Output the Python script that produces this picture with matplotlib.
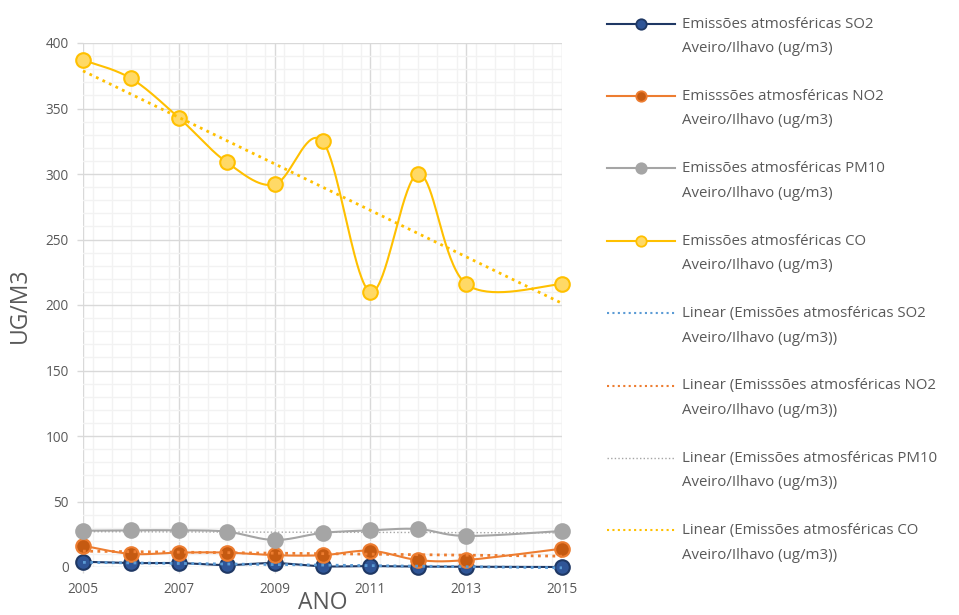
import numpy as np
import matplotlib
matplotlib.use("Agg")
import matplotlib.pyplot as plt
from matplotlib.lines import Line2D
from matplotlib.ticker import MultipleLocator

plt.rcParams['font.family'] = ['Open Sans', 'DejaVu Sans']

# Annual averages, Aveiro/Ilhavo station (ug/m3); no record for 2014
years = [2005, 2006, 2007, 2008, 2009, 2010, 2011, 2012, 2013, 2015]
so2 = [4.0, 3.0, 3.0, 1.5, 3.0, 0.5, 0.7, 0.3, 0.3, 0.0]
no2 = [16.3, 10.0, 11.0, 11.0, 9.0, 9.0, 12.4, 5.3, 5.3, 14.0]
pm10 = [27.7, 28.0, 28.0, 27.0, 20.6, 26.0, 28.0, 29.0, 23.7, 27.5]
co = [387, 373, 343, 309, 292, 325, 210, 300, 216, 216]

series_labels = [
    ("Emissões atmosféricas SO2", "Aveiro/Ilhavo (ug/m3)"),
    ("Emisssões atmosféricas NO2", "Aveiro/Ilhavo (ug/m3)"),
    ("Emissões atmosféricas PM10", "Aveiro/Ilhavo (ug/m3)"),
    ("Emissões atmosféricas CO", "Aveiro/Ilhavo (ug/m3)"),
]
x_ticks = [2005, 2007, 2009, 2011, 2013, 2015]
y_ticks = [0, 50, 100, 150, 200, 250, 300, 350, 400]

# line colour, marker fill, marker edge, trend colour, trend width
styles = [
    dict(line="#1F3864", fill="#2F5597", edge="#1F3864", trend="#5B9BD5", tw=2.0),
    dict(line="#ED7D31", fill="#C55A11", edge="#ED7D31", trend="#ED7D31", tw=2.0),
    dict(line="#A5A5A5", fill="#A5A5A5", edge="#A5A5A5", trend="#A5A5A5", tw=1.0),
    dict(line="#FFC000", fill="#FFD966", edge="#FFC000", trend="#FFC000", tw=2.0),
]

W, H = 959, 615
fig = plt.figure(figsize=(W / 100, H / 100), dpi=100)
L, R, T, B = 83, 562, 43, 567
ax = fig.add_axes([L / W, 1 - B / H, (R - L) / W, (B - T) / H])
ax.set_xlim(2005, 2015)
ax.set_ylim(0, 400)

xs_px = (R - L) / 10.0
ys_px = (B - T) / 400.0


def smooth(xv, yv, n=40):
    """Bezier smoothing through the points (Catmull-Rom style, screen space)."""
    P = np.column_stack([np.asarray(xv, float) * xs_px, np.asarray(yv, float) * ys_px])
    out = [P[0]]
    m = len(P)
    for i in range(m - 1):
        p0 = P[i - 1] if i > 0 else P[i]
        p1, p2 = P[i], P[i + 1]
        p3 = P[i + 2] if i + 2 < m else P[i + 1]
        c1 = p1 + (p2 - p0) / 6.0
        c2 = p2 - (p3 - p1) / 6.0
        t = np.linspace(0, 1, n)[1:, None]
        seg = ((1 - t) ** 3) * p1 + 3 * ((1 - t) ** 2) * t * c1 + 3 * (1 - t) * t ** 2 * c2 + t ** 3 * p2
        out.extend(seg)
    out = np.array(out)
    return out[:, 0] / xs_px, out[:, 1] / ys_px


# grid
ax.xaxis.set_major_locator(MultipleLocator(2))
ax.xaxis.set_minor_locator(MultipleLocator(0.4))
ax.yaxis.set_major_locator(MultipleLocator(50))
ax.yaxis.set_minor_locator(MultipleLocator(10))
ax.grid(which="minor", color="#F2F2F2", lw=1.0)
ax.grid(which="major", color="#D9D9D9", lw=1.0)
ax.set_axisbelow(True)
for s in ax.spines.values():
    s.set_visible(False)
ax.set_xticks(x_ticks)
ax.set_yticks(y_ticks)
ax.tick_params(which="minor", length=0)
ax.tick_params(which="major", length=4, color="#D9D9D9", labelcolor="#595959",
               labelsize=9.8, width=1.0)
ax.tick_params(axis="y", pad=6)
ax.tick_params(axis="x", pad=7)

all_series = [so2, no2, pm10, co]
yrs = np.array(years, float)
for data, st in zip(all_series, styles):
    sx, sy = smooth(years, data)
    ax.plot(sx, sy, color=st["line"], lw=1.5, zorder=3, clip_on=False)
for data, st in zip(all_series, styles):
    ax.plot(years, data, ls="none", marker="o", ms=10.5, mfc=st["fill"],
            mec=st["edge"], mew=1.5, zorder=4, clip_on=False)
# linear trend lines
for data, st in zip(all_series, styles):
    k, b = np.polyfit(yrs - 2005, np.array(data, float), 1)
    tx = np.array([2005.0, 2015.0])
    ty = k * (tx - 2005) + b
    ax.plot(tx, ty, color=st["trend"], lw=st["tw"], ls=(0, (1, 1.6)), zorder=5,
            clip_on=False)

ax.set_ylabel("UG/M3", fontsize=16.5, color="#595959")
ax.yaxis.set_label_coords(-0.106, 0.5)
ax.set_xlabel("ANO", fontsize=16.5, color="#595959", va="baseline")
ax.xaxis.set_label_coords(0.5, -0.080)

# legend, drawn in figure pixels
def fx(px):
    return px / W


def fy(py):
    return 1 - py / H


step = 72.4
entries = []
for (l1, l2), st in zip(series_labels, styles):
    entries.append((l1, l2, st, False))
for (l1, l2), st in zip(series_labels, styles):
    entries.append(("Linear (" + l1, l2 + ")", st, True))

for i, (l1, l2, st, is_trend) in enumerate(entries):
    yc = 23.5 + i * step
    if is_trend:
        fig.add_artist(Line2D([fx(607), fx(675)], [fy(yc), fy(yc)], color=st["trend"],
                              lw=st["tw"] if st["tw"] < 2 else 1.5, ls=(0, (1, 1.6))))
    else:
        fig.add_artist(Line2D([fx(607), fx(675)], [fy(yc), fy(yc)], color=st["line"], lw=1.5))
        fig.add_artist(Line2D([fx(641)], [fy(yc)], ls="none", marker="o", ms=7.5,
                              mfc=st["fill"], mec=st["edge"], mew=1.3))
    fig.text(fx(682), fy(27.5 + i * step), l1, fontsize=10.8, color="#595959", va="baseline")
    fig.text(fx(682), fy(52 + i * step), l2, fontsize=10.8, color="#595959", va="baseline")

fig.savefig("out.png", dpi=100)
